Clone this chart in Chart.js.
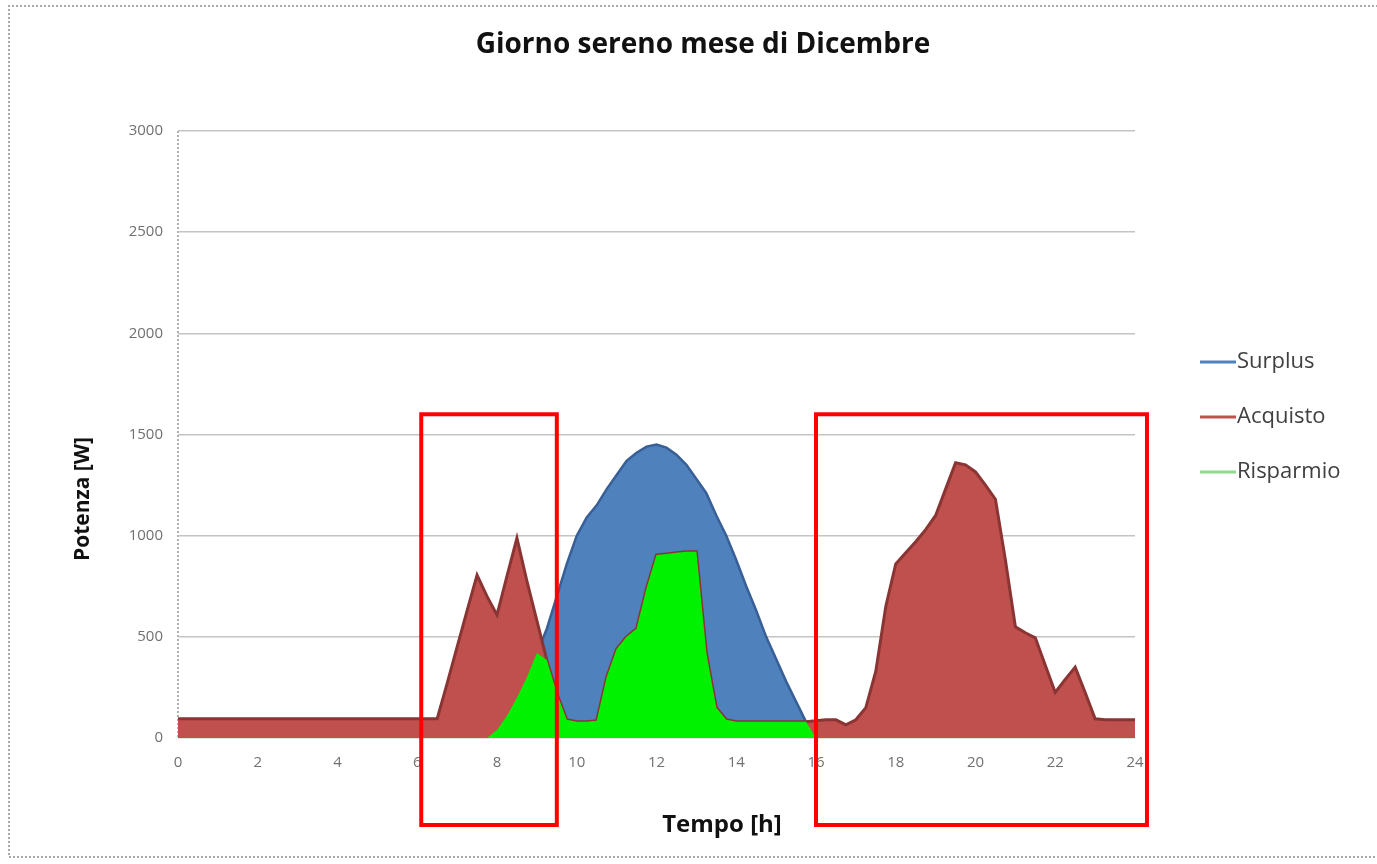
<!DOCTYPE html>
<html>
<head>
<meta charset="utf-8">
<script src="https://cdn.jsdelivr.net/npm/chart.js@4.4.1/dist/chart.umd.min.js"></script>
<style>
  html, body { margin: 0; padding: 0; background: #ffffff; }
  #wrap { width: 1377px; height: 864px; position: relative; }
</style>
</head>
<body>
<div id="wrap"><canvas id="c" width="1377" height="864"></canvas></div>
<script>
// Time of day [h], quarter-hour steps
const hours = [
  0, 0.25, 0.5, 0.75, 1, 1.25, 1.5, 1.75, 2, 2.25, 2.5, 2.75,
  3, 3.25, 3.5, 3.75, 4, 4.25, 4.5, 4.75, 5, 5.25, 5.5, 5.75,
  6, 6.25, 6.5, 6.75, 7, 7.25, 7.5, 7.75, 8, 8.25, 8.5, 8.75,
  9, 9.25, 9.5, 9.75, 10, 10.25, 10.5, 10.75, 11, 11.25, 11.5, 11.75,
  12, 12.25, 12.5, 12.75, 13, 13.25, 13.5, 13.75, 14, 14.25, 14.5, 14.75,
  15, 15.25, 15.5, 15.75, 16, 16.25, 16.5, 16.75, 17, 17.25, 17.5, 17.75,
  18, 18.25, 18.5, 18.75, 19, 19.25, 19.5, 19.75, 20, 20.25, 20.5, 20.75,
  21, 21.25, 21.5, 21.75, 22, 22.25, 22.5, 22.75, 23, 23.25, 23.5, 23.75,
  24
];

// Power [W] — photovoltaic production (Surplus)
const surplus = [
  0, 0, 0, 0, 0, 0, 0, 0, 0, 0, 0, 0,
  0, 0, 0, 0, 0, 0, 0, 0, 0, 0, 0, 0,
  0, 0, 0, 0, 0, 0, 0, 0, 40, 110, 200, 300,
  420, 540, 700, 860, 1000, 1090, 1150, 1230, 1300, 1370, 1410, 1440,
  1450, 1435, 1400, 1350, 1280, 1210, 1100, 1000, 880, 750, 630, 500,
  390, 280, 180, 80, 0, 0, 0, 0, 0, 0, 0, 0,
  0, 0, 0, 0, 0, 0, 0, 0, 0, 0, 0, 0,
  0, 0, 0, 0, 0, 0, 0, 0, 0, 0, 0, 0,
  0
];

// Power [W] — household load drawn from the grid (Acquisto)
const acquisto = [
  95, 95, 95, 95, 95, 95, 95, 95, 95, 95, 95, 95,
  95, 95, 95, 95, 95, 95, 95, 95, 95, 95, 95, 95,
  95, 95, 95, 270, 450, 630, 805, 700, 608, 800, 988, 775,
  580, 385, 220, 90, 80, 80, 85, 300, 440, 500, 540, 740,
  905, 910, 915, 920, 920, 420, 150, 90, 80, 80, 80, 80,
  80, 80, 80, 80, 85, 90, 90, 65, 90, 150, 330, 650,
  860, 915, 970, 1030, 1100, 1230, 1360, 1350, 1315, 1250, 1180, 880,
  550, 520, 495, 360, 225, 290, 350, 225, 95, 90, 90, 90,
  90
];

// Power [W] — self-consumed share (Risparmio)
const risparmio = [
  0, 0, 0, 0, 0, 0, 0, 0, 0, 0, 0, 0,
  0, 0, 0, 0, 0, 0, 0, 0, 0, 0, 0, 0,
  0, 0, 0, 0, 0, 0, 0, 0, 40, 110, 200, 300,
  420, 385, 220, 90, 80, 80, 85, 300, 440, 500, 540, 740,
  905, 910, 915, 920, 920, 420, 150, 90, 80, 80, 80, 80,
  80, 80, 80, 80, 0, 0, 0, 0, 0, 0, 0, 0,
  0, 0, 0, 0, 0, 0, 0, 0, 0, 0, 0, 0,
  0, 0, 0, 0, 0, 0, 0, 0, 0, 0, 0, 0,
  0
];

const seriesNames = ['Surplus', 'Acquisto', 'Risparmio'];
const xTicks = [0, 2, 4, 6, 8, 10, 12, 14, 16, 18, 20, 22, 24];
const yTicks = [0, 500, 1000, 1500, 2000, 2500, 3000];

// Highlighted time windows [h] and their vertical span [W]
const highlightHours = [[6.1, 9.5], [16.0, 24.3]];
const highlightPower = [1600, -430];

const titleText = 'Giorno sereno mese di Dicembre';
const xTitle = 'Tempo [h]';
const yTitle = 'Potenza [W]';

const FONT = '"Open Sans", "Liberation Sans", sans-serif';
const fillColors = ['#4F81BD', '#C0504D', '#00F200'];
const lineColors = ['#385F96', '#8A3533', '#00E000'];
const legendColors = ['#4F81BD', '#C0504D', '#8EDC8E'];

const toPoints = vals => hours.map((h, i) => ({ x: h, y: vals[i] }));

const decor = {
  id: 'decor',
  beforeDraw(chart) {
    const ctx = chart.ctx;
    ctx.save();
    ctx.fillStyle = '#ffffff';
    ctx.fillRect(0, 0, chart.width, chart.height);
    // dotted frame around the chart object
    ctx.strokeStyle = '#a8a8a8';
    ctx.lineWidth = 2;
    ctx.setLineDash([2, 2]);
    ctx.beginPath();
    ctx.moveTo(chart.width + 5, 6);
    ctx.lineTo(9, 6);
    ctx.lineTo(9, 857);
    ctx.lineTo(chart.width + 5, 857);
    ctx.stroke();
    // dotted vertical axis line
    const a = chart.chartArea;
    ctx.strokeStyle = '#b0b0b0';
    ctx.beginPath();
    ctx.moveTo(a.left, a.top);
    ctx.lineTo(a.left, a.bottom);
    ctx.stroke();
    ctx.restore();
  },
  afterDraw(chart) {
    const ctx = chart.ctx;
    const xs = chart.scales.x, ys = chart.scales.y;
    ctx.save();
    ctx.fillStyle = '#111111';
    ctx.textAlign = 'center';
    ctx.textBaseline = 'middle';
    ctx.font = 'bold 28px ' + FONT;
    ctx.fillText(titleText, 703, 45);
    ctx.font = 'bold 24px ' + FONT;
    ctx.fillText(xTitle, 722, 825);
    ctx.font = 'bold 21px ' + FONT;
    ctx.save();
    ctx.translate(83, 499);
    ctx.rotate(-Math.PI / 2);
    ctx.fillText(yTitle, 0, 0);
    ctx.restore();

    // legend
    ctx.textAlign = 'left';
    ctx.font = '22px ' + FONT;
    seriesNames.forEach((name, i) => {
      const y = 362 + 55 * i;
      ctx.strokeStyle = legendColors[i];
      ctx.lineWidth = 3;
      ctx.beginPath();
      ctx.moveTo(1200, y);
      ctx.lineTo(1236, y);
      ctx.stroke();
      ctx.fillStyle = '#404040';
      ctx.fillText(name, 1237, y);
    });

    // red highlight frames
    ctx.strokeStyle = '#ff0000';
    ctx.lineWidth = 4;
    highlightHours.forEach(([h0, h1]) => {
      const x0 = xs.getPixelForValue(h0), x1 = xs.getPixelForValue(h1);
      const y0 = ys.getPixelForValue(highlightPower[0]);
      const y1 = ys.getPixelForValue(highlightPower[1]);
      ctx.strokeRect(x0, y0, x1 - x0, y1 - y0);
    });
    ctx.restore();
  }
};

new Chart(document.getElementById('c'), {
  type: 'line',
  data: {
    datasets: [
      { label: seriesNames[0], data: toPoints(surplus), fill: 'origin',
        backgroundColor: fillColors[0], borderColor: lineColors[0], borderWidth: 2.5, order: 3 },
      { label: seriesNames[1], data: toPoints(acquisto), fill: 'origin',
        backgroundColor: fillColors[1], borderColor: lineColors[1], borderWidth: 3, order: 2 },
      { label: seriesNames[2], data: toPoints(risparmio), fill: 'origin',
        backgroundColor: fillColors[2], borderColor: fillColors[2], borderWidth: 0, order: 1 }
    ]
  },
  options: {
    responsive: false,
    animation: false,
    devicePixelRatio: 1,
    elements: { point: { radius: 0 }, line: { tension: 0 } },
    layout: { padding: { top: 131, left: 0, right: 242, bottom: 0 } },
    plugins: { legend: { display: false }, title: { display: false }, tooltip: { enabled: false } },
    scales: {
      x: {
        type: 'linear', min: 0, max: 24,
        afterBuildTicks: s => { s.ticks = xTicks.map(v => ({ value: v })); },
        afterFit: s => { s.height = 126; },
        grid: { display: false, drawTicks: false },
        border: { display: false },
        ticks: { color: '#707070', padding: 16, font: { family: FONT, size: 15 },
                 callback: v => String(v) }
      },
      y: {
        min: 0, max: 3000,
        afterBuildTicks: s => { s.ticks = yTicks.map(v => ({ value: v })); },
        afterFit: s => { s.width = 178; },
        grid: { color: '#c4c4c4', lineWidth: 1.5, drawTicks: false },
        border: { display: false },
        ticks: { color: '#707070', padding: 15, font: { family: FONT, size: 15 },
                 callback: v => String(v) }
      }
    }
  },
  plugins: [decor]
});
</script>
</body>
</html>
